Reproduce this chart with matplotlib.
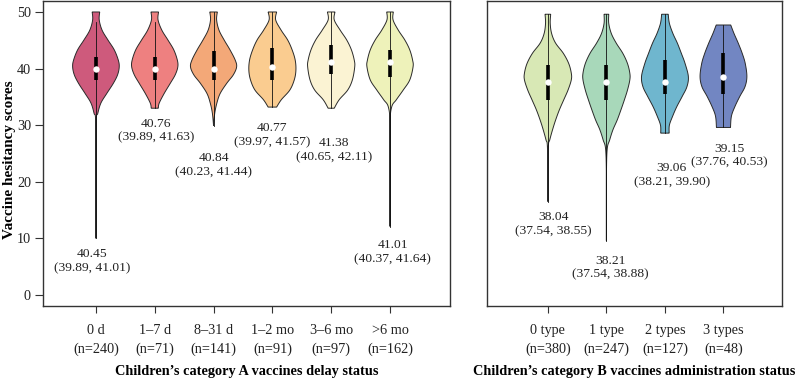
import numpy as np
import matplotlib
matplotlib.use('Agg')
import matplotlib.pyplot as plt

plt.rcParams['font.family'] = ['Liberation Serif', 'DejaVu Serif']

# ---- data ----
left_cats = ['0 d', '1–7 d', '8–31 d', '1–2 mo', '3–6 mo', '>6 mo']
left_n = [240, 71, 141, 91, 97, 162]
left_mean = [40.45, 40.76, 40.84, 40.77, 41.38, 41.01]
left_ci_lo = [39.89, 39.89, 40.23, 39.97, 40.65, 40.37]
left_ci_hi = [41.01, 41.63, 41.44, 41.57, 42.11, 41.64]
left_colors = ['#CE5A7C', '#EE8080', '#F3A878', '#FACC90', '#FBF3D3', '#EEF2BA']

right_cats = ['0 type', '1 type', '2 types', '3 types']
right_n = [380, 247, 127, 48]
right_mean = [38.04, 38.21, 39.06, 39.15]
right_ci_lo = [37.54, 37.54, 38.21, 37.76]
right_ci_hi = [38.55, 38.88, 39.90, 40.53]
right_colors = ['#D8E8B5', '#A8D8BA', '#6FB6CE', '#7286C2']

# violin outlines: score levels and relative half-width (1 = widest)
left_prof_y = [
    [50, 48.6, 46.8, 45.05, 43.3, 41.5, 40.3, 38.9, 37.4, 35.6, 33.9, 32.1, 30.5, 20, 10],
    [50, 48.6, 46.8, 45.05, 43.3, 41.5, 40.3, 38.9, 37.4, 35.6, 33.9, 33.0],
    [50, 48.6, 46.8, 45.05, 43.3, 41.5, 40.3, 38.9, 37.4, 35.6, 33.9, 32.1, 29.9],
    [50, 48.6, 46.8, 45.05, 43.3, 41.5, 39.7, 38.0, 36.2, 34.5, 33.2],
    [50, 48.6, 46.8, 45.05, 43.3, 41.5, 40.3, 38.0, 36.2, 34.5, 33.0],
    [50, 48.6, 46.8, 45.05, 43.3, 41.5, 40.3, 38.0, 36.2, 34.5, 33.2, 30, 20, 12.1],
]
left_prof_w = [
    [0.16, 0.14, 0.26, 0.51, 0.78, 0.95, 0.99, 0.92, 0.74, 0.46, 0.21, 0.08, 0.01, 0.0, 0.0],
    [0.16, 0.14, 0.30, 0.56, 0.81, 0.96, 0.98, 0.87, 0.66, 0.40, 0.19, 0.15],
    [0.16, 0.13, 0.23, 0.45, 0.70, 0.92, 0.98, 0.84, 0.56, 0.28, 0.14, 0.05, 0.0],
    [0.18, 0.14, 0.37, 0.65, 0.84, 0.97, 1.00, 0.93, 0.74, 0.38, 0.18],
    [0.16, 0.13, 0.38, 0.66, 0.86, 0.98, 1.00, 0.90, 0.70, 0.34, 0.13],
    [0.14, 0.13, 0.35, 0.63, 0.84, 0.96, 0.98, 0.84, 0.56, 0.27, 0.07, 0.0, 0.0, 0.0],
]
right_prof_y = [
    [49.6, 48, 46.2, 44.5, 42.7, 40.9, 39.2, 38.0, 36.2, 34.5, 32.7, 30.9, 29.2, 27.4, 26.2, 20, 16.5],
    [49.6, 48, 46.2, 44.5, 42.7, 40.9, 39.2, 38.0, 36.2, 34.5, 32.7, 30.9, 29.2, 27.4, 25.6, 20, 9.6],
    [49.6, 48, 46.2, 44.5, 42.7, 40.9, 38.6, 36.8, 35.1, 33.3, 31.6, 30.0, 28.6],
    [47.7, 46.2, 44.5, 42.7, 40.9, 38.6, 36.8, 35.1, 33.3, 31.6, 29.6],
]
right_prof_w = [
    [0.12, 0.10, 0.16, 0.33, 0.66, 0.89, 1.0, 1.0, 0.86, 0.68, 0.49, 0.33, 0.20, 0.08, 0.02, 0.0, 0.0],
    [0.10, 0.10, 0.21, 0.42, 0.70, 0.90, 1.0, 1.0, 0.90, 0.77, 0.62, 0.46, 0.28, 0.14, 0.03, 0.0, 0.0],
    [0.14, 0.19, 0.34, 0.53, 0.70, 0.86, 1.0, 0.94, 0.74, 0.51, 0.33, 0.19, 0.18],
    [0.31, 0.45, 0.63, 0.80, 0.93, 1.0, 0.92, 0.70, 0.49, 0.34, 0.30],
]

# box stats: q1, median, q3, whisker low, whisker high
left_q1 = [37.9, 37.9, 38.0, 38.0, 39.0, 38.6]
left_med = [40.0, 40.0, 40.0, 40.2, 41.2, 41.1]
left_q3 = [42.1, 42.1, 43.1, 43.6, 44.2, 43.2]
left_wlo = [10, 33.0, 29.9, 33.2, 33.0, 12.1]
left_whi = [48.3, 48.3, 50, 50, 50, 50]

right_q1 = [34.5, 34.5, 35.5, 35.5]
right_med = [37.7, 37.7, 37.7, 38.6]
right_q3 = [40.6, 40.6, 41.6, 42.7]
right_wlo = [16.5, 9.6, 28.6, 29.6]
right_whi = [49.6, 49.6, 49.6, 47.7]

# label placement (points below the violin bottom, sideways shift)
left_lab_dy = [7, 7, 19, 11, 21, 9]
left_lab_dx = [-3, 1, 0, 0, 2, 2]
right_lab_dy = [7, 10, 21, 11]
right_lab_dx = [4, 3, 5, 4]


def catmull(ys, ws, n=12):
    pts = np.column_stack([ys, ws]).astype(float)
    pts = np.vstack([pts[0], pts, pts[-1]])
    out = []
    t = np.linspace(0, 1, n, endpoint=False)[:, None]
    for i in range(1, len(pts) - 2):
        p0, p1, p2, p3 = pts[i - 1], pts[i], pts[i + 1], pts[i + 2]
        seg = 0.5 * (2 * p1 + (-p0 + p2) * t + (2 * p0 - 5 * p1 + 4 * p2 - p3) * t ** 2
                     + (-p0 + 3 * p1 - 3 * p2 + p3) * t ** 3)
        out.append(seg)
    out.append(pts[-2][None])
    c = np.vstack(out)
    c[:, 1] = np.clip(c[:, 1], 0, None)
    return c[:, 0], c[:, 1]


def draw_panel(ax, cats, ns, colors, prof_y, prof_w, q1, med, q3, wlo, whi,
               mean, lo, hi, dys, dxs):
    half = 0.4
    for i in range(len(cats)):
        yy, ww = catmull(prof_y[i], prof_w[i])
        xs = np.concatenate([i + ww * half, (i - ww * half)[::-1]])
        ys = np.concatenate([yy, yy[::-1]])
        ax.fill(xs, ys, facecolor=colors[i], edgecolor='#2a2a2a', linewidth=0.7, zorder=2)
        ax.plot([i, i], [wlo[i], whi[i]], color='#111111', linewidth=0.6, zorder=3)
        ax.plot([i, i], [q1[i], q3[i]], color='black', linewidth=2.6,
                solid_capstyle='butt', zorder=4)
        ax.plot(i, med[i], 'o', color='white', markersize=4.6, markeredgewidth=0, zorder=5)
        ax.annotate('%.2f\n(%.2f, %.2f)' % (mean[i], lo[i], hi[i]),
                    xy=(i, min(prof_y[i])), xytext=(dxs[i], -dys[i]),
                    textcoords='offset points', ha='center', va='top',
                    fontsize=9.7, color='#222222', linespacing=1.2)
    ax.set_xticks(range(len(cats)))
    ax.set_xticklabels(['%s\n(n=%d)' % (c, n) for c, n in zip(cats, ns)],
                       fontsize=10.3, linespacing=1.55, color='#222222')
    ax.set_ylim(-1.94, 51.94)
    ax.tick_params(axis='x', direction='out', length=5, width=0.8, pad=8, color='#333333')
    for s in ax.spines.values():
        s.set_color('#333333')
        s.set_linewidth(1.0)


fig = plt.figure(figsize=(8, 3.79), dpi=100)
ax1 = fig.add_axes([43 / 800, 73 / 379, 407 / 800, 305 / 379])
ax2 = fig.add_axes([487 / 800, 73 / 379, 295 / 800, 305 / 379])

draw_panel(ax1, left_cats, left_n, left_colors, left_prof_y, left_prof_w,
           left_q1, left_med, left_q3, left_wlo, left_whi,
           left_mean, left_ci_lo, left_ci_hi, left_lab_dy, left_lab_dx)
draw_panel(ax2, right_cats, right_n, right_colors, right_prof_y, right_prof_w,
           right_q1, right_med, right_q3, right_wlo, right_whi,
           right_mean, right_ci_lo, right_ci_hi, right_lab_dy, right_lab_dx)

ax1.set_xlim(-0.9, 6.02)
ax2.set_xlim(-1.04, 4.0)

ax1.set_yticks([0, 10, 20, 30, 40, 50])
ax1.tick_params(axis='y', direction='out', length=5.8, width=0.8, pad=2.9,
                labelsize=10.2, color='#333333', labelcolor='#222222')
ax2.set_yticks([])

ax1.set_ylabel('Vaccine hesitancy scores', fontsize=11, fontweight='bold')
ax1.yaxis.set_label_coords(-0.066, 0.479)
ax1.set_xlabel('Children’s category A vaccines delay status', fontsize=10.3,
               fontweight='bold', labelpad=6)
ax2.set_xlabel('Children’s category B vaccines administration status', fontsize=10.3,
               fontweight='bold', labelpad=6)

fig.savefig('out.png', dpi=100)
